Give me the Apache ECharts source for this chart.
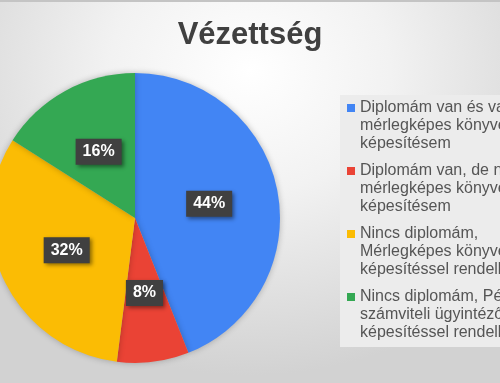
<!DOCTYPE html>
<html>
<head>
<meta charset="utf-8">
<script src="https://cdn.jsdelivr.net/npm/echarts@6/dist/echarts.min.js"></script>
<style>
html,body{margin:0;padding:0;}
#c{width:500px;height:383px;
background: radial-gradient(ellipse 70% 80% at 50% 18%, #ffffff 0%, #f2f2f2 40%, #d2d2d2 100%);
box-sizing:border-box;border-top:2px solid #c4c4c4;}
</style>
</head>
<body>
<div id="c"></div>
<script>
const titleText = 'Vézettség';
const categories = [
  'Diplomám van és van\nmérlegképes könyvelői\nképesítésem',
  'Diplomám van, de nincs\nmérlegképes könyvelői\nképesítésem',
  'Nincs diplomám,\nMérlegképes könyvelői\nképesítéssel rendelkezem',
  'Nincs diplomám, Pénzügyi-\nszámviteli ügyintézői\nképesítéssel rendelkezem'
];
const values = [44, 8, 32, 16];
const colors = ['#4285F4', '#EA4335', '#FBBC04', '#34A853'];

const chart = echarts.init(document.getElementById('c'));
chart.setOption({
  backgroundColor: 'transparent',
  animation: false,
  color: colors,
  title: {
    text: titleText,
    left: 'center',
    top: 13,
    textStyle: {fontFamily: 'Liberation Sans, Arial, sans-serif', fontSize: 31, fontWeight: 'bold', color: '#404040'}
  },
  legend: {
    orient: 'vertical',
    left: 340,
    top: 93,
    padding: [4, 10, 5, 7],
    backgroundColor: '#ececec',
    itemWidth: 8,
    itemHeight: 54,
    itemGap: 9,
    icon: 'path://M0,0h0.01v0.01h-0.01zM0,5h8v8h-8zM0,53.99h0.01v0.01h-0.01z',
    itemStyle: {borderWidth: 0},
    data: categories,
    textStyle: {
      fontFamily: 'Liberation Sans, Arial, sans-serif',
      fontSize: 16,
      lineHeight: 18,
      color: '#555555'
    }
  },
  series: [{
    type: 'pie',
    center: [135, 216],
    radius: 145,
    startAngle: 90,
    clockwise: true,
    data: categories.map((n, i) => ({name: n, value: values[i]})),
    itemStyle: {shadowBlur: 6, shadowColor: 'rgba(0,0,0,0.25)'},
    emphasis: {disabled: true},
    label: {
      show: true,
      position: 'inside',
      formatter: p => p.value + '%',
      fontFamily: 'Liberation Sans, Arial, sans-serif',
      fontSize: 16,
      fontWeight: 'bold',
      color: '#ffffff',
      backgroundColor: '#404040',
      padding: [5, 7, 5, 7],
      shadowBlur: 4,
      shadowOffsetX: 2,
      shadowOffsetY: 2,
      shadowColor: 'rgba(0,0,0,0.45)'
    },
    labelLine: {show: false}
  }]
});
</script>
</body>
</html>
